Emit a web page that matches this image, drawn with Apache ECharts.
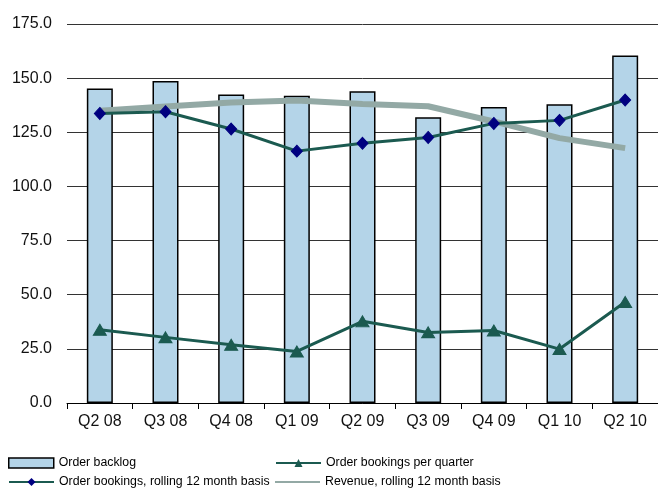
<!DOCTYPE html>
<html><head><meta charset="utf-8">
<script src="https://cdn.jsdelivr.net/npm/echarts@6/dist/echarts.min.js"></script>
<style>html,body{margin:0;padding:0;background:#fff}#c{width:658px;height:498px}</style>
</head><body><div id="c"></div>
<script>
var categories = ['Q2 08','Q3 08','Q4 08','Q1 09','Q2 09','Q3 09','Q4 09','Q1 10','Q2 10'];
var orderBacklog = [145.2,148.7,142.5,141.9,144.0,132.0,136.7,137.9,160.5];
var bookingsQuarter = [33.8,30.3,26.9,23.8,37.7,32.6,33.5,24.9,46.6];
var bookingsRolling = [133.7,134.5,126.5,116.3,119.9,122.6,129.1,130.5,139.9];
var revenueRolling = [135.0,136.9,138.8,139.7,138.1,137.0,130.0,122.3,117.7];
var yTicks = {min:0, max:175, interval:25};

var font = 'Liberation Sans, Arial, sans-serif';
var green = '#1b5a50';
function lg(name, left, top, extra){
  var d = {name:name};
  if (extra) for (var k in extra) d[k] = extra[k];
  return {left:left, top:top, padding:0, itemWidth:45, itemHeight:10, itemGap:0,
    textStyle:{fontSize:12.3,color:'#000',fontFamily:font},
    data:[d]};
}
var chart = echarts.init(document.getElementById('c'));
chart.setOption({
  animation:false,
  backgroundColor:'#fff',
  textStyle:{fontFamily:font},
  grid:{left:67,top:24,width:594,bottom:95,containLabel:false},
  xAxis:{type:'category',data:categories,boundaryGap:true,
    axisLine:{lineStyle:{color:'#000',width:1}},
    axisTick:{show:true,length:6,lineStyle:{color:'#000'},alignWithLabel:false},
    axisLabel:{color:'#111',fontSize:16,margin:11,fontFamily:font}},
  yAxis:{type:'value',min:yTicks.min,max:yTicks.max,interval:yTicks.interval,
    axisLine:{show:false},axisTick:{show:false},
    axisLabel:{color:'#111',fontSize:16,margin:15,fontFamily:font,formatter:function(v){return v.toFixed(1);}},
    splitLine:{lineStyle:{color:'#333',width:1}}},
  legend:[
    lg('Order backlog', 8, 457, {itemStyle:{borderColor:'#000',borderWidth:1.5}, icon:'rect'}),
    lg('Order bookings per quarter', 275, 457),
    lg('Order bookings, rolling 12 month basis', 8, 476),
    lg('Revenue, rolling 12 month basis', 274, 476, {itemStyle:{opacity:0}})
  ],
  series:[
    {name:'Order backlog',type:'bar',data:orderBacklog,barWidth:26,
     itemStyle:{color:'#b4d4e8',borderColor:'#000',borderWidth:1.5},z:1},
    {name:'Revenue, rolling 12 month basis',type:'line',data:revenueRolling,symbol:'none',
     lineStyle:{color:'#93a9a5',width:6},itemStyle:{color:'#93a9a5'},z:2},
    {name:'Order bookings, rolling 12 month basis',type:'line',data:bookingsRolling,
     symbol:'diamond',symbolSize:[11,12],lineStyle:{color:green,width:3},
     itemStyle:{color:'#000080',borderColor:'#000080'},z:3},
    {name:'Order bookings per quarter',type:'line',data:bookingsQuarter,
     symbol:'triangle',symbolSize:[13,11],lineStyle:{color:green,width:3},
     itemStyle:{color:green,borderColor:green},z:3}
  ]
});
</script></body></html>
